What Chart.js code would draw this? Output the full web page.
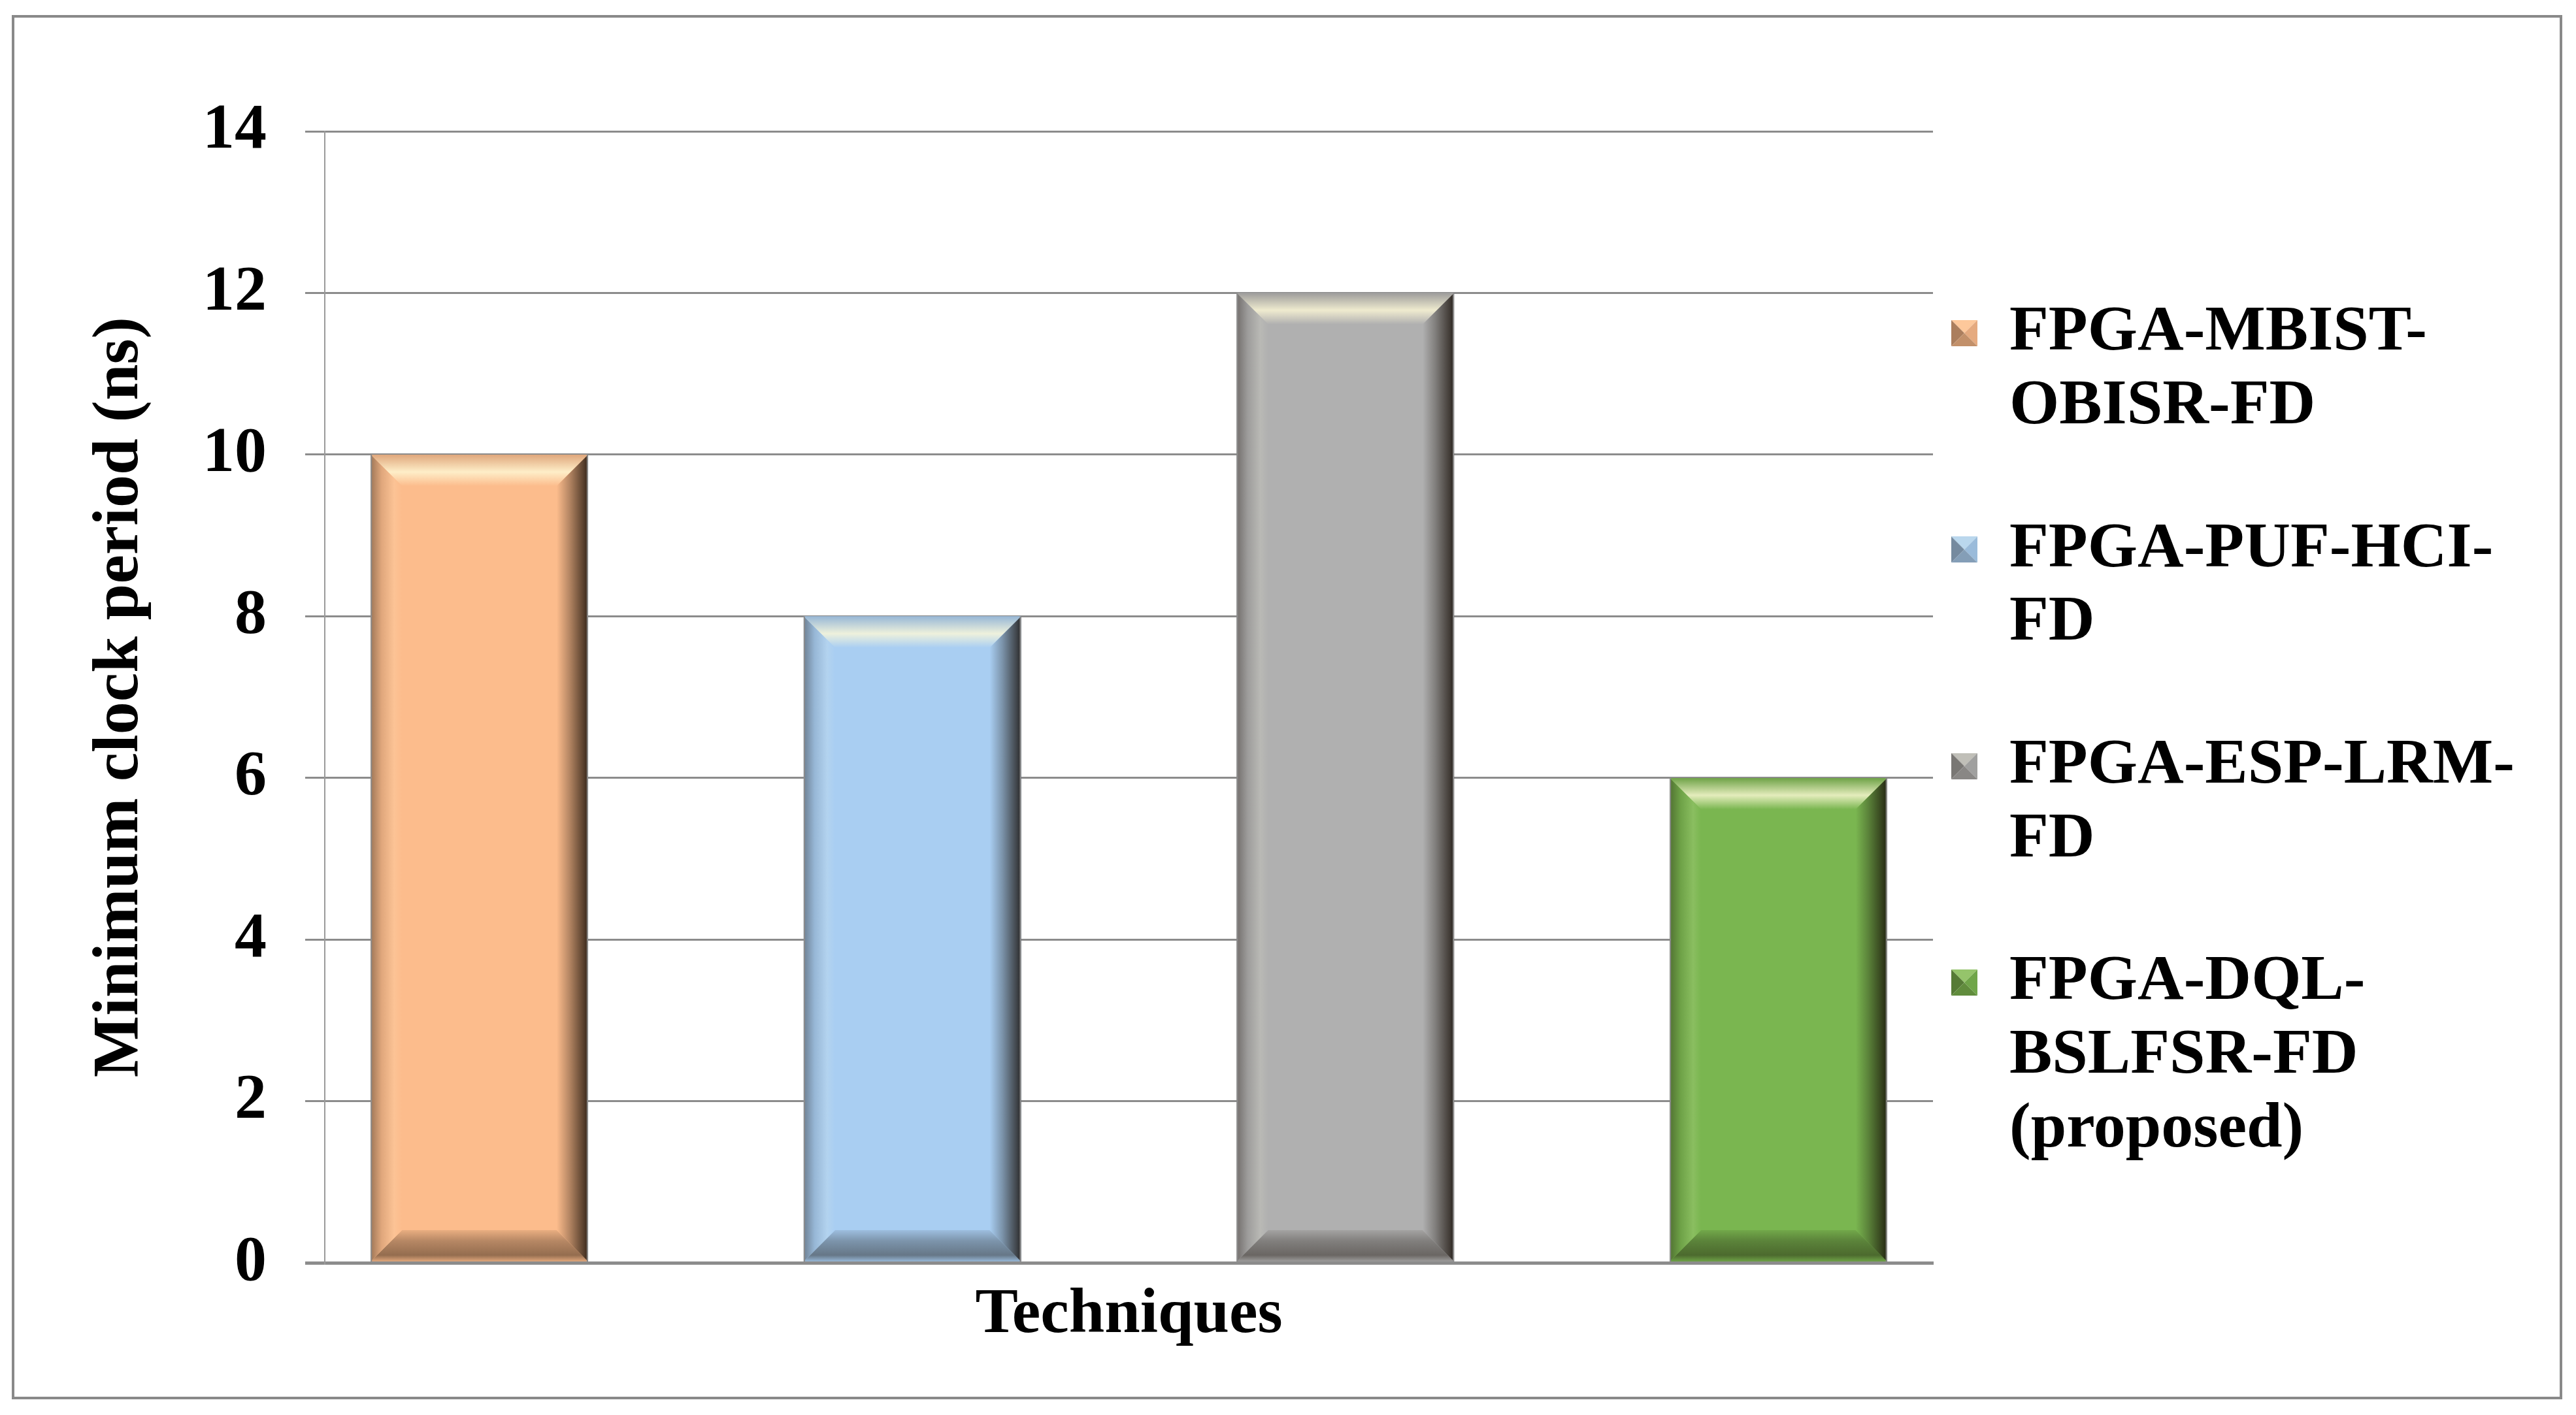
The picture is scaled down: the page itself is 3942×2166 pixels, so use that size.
<!DOCTYPE html>
<html>
<head>
<meta charset="utf-8">
<script src="https://cdn.jsdelivr.net/npm/chart.js@4/dist/chart.umd.min.js"></script>
<style>
  html, body { margin: 0; padding: 0; background: #fff; }
  canvas { display: block; }
</style>
</head>
<body>
<canvas id="clock-chart" width="3942" height="2166"></canvas>
<script>
// data
const categories = ['Techniques'];
const seriesNames = ['FPGA-MBIST-OBISR-FD', 'FPGA-PUF-HCI-FD', 'FPGA-ESP-LRM-FD', 'FPGA-DQL-BSLFSR-FD (proposed)'];
const legendLines = [
    ['FPGA-MBIST-', 'OBISR-FD'],
    ['FPGA-PUF-HCI-', 'FD'],
    ['FPGA-ESP-LRM-', 'FD'],
    ['FPGA-DQL-', 'BSLFSR-FD', '(proposed)']
];
const clockPeriods = [10, 8, 12, 6];
const yTicks = [0, 2, 4, 6, 8, 10, 12, 14];
const barColors = [[252, 188, 140], [169, 206, 242], [176, 176, 176], [122, 182, 80]];

const fontFamily = '"Liberation Serif", "Times New Roman", serif';
const bigFont = { family: fontFamily, size: 98, weight: 'bold', lineHeight: 1.2 };

// helpers for the bevel shading
function mix(c, t, k) {
    return `rgb(${Math.round(c[0] + (t[0] - c[0]) * k)},${Math.round(c[1] + (t[1] - c[1]) * k)},${Math.round(c[2] + (t[2] - c[2]) * k)})`;
}
const BLACK = [20, 12, 5];
const WHITE = [255, 250, 215];

function makeIcon(c) {
    const s = 40;
    const cv = document.createElement('canvas');
    cv.width = s; cv.height = s;
    const g = cv.getContext('2d');
    const tri = (pts, col) => {
        g.fillStyle = col;
        g.beginPath();
        g.moveTo(pts[0], pts[1]);
        for (let i = 2; i < pts.length; i += 2) g.lineTo(pts[i], pts[i + 1]);
        g.closePath();
        g.fill();
    };
    tri([0, 0, s, 0, s / 2, s / 2], mix(c, WHITE, 0.2));
    tri([0, 0, s / 2, s / 2, 0, s], mix(c, BLACK, 0.35));
    tri([s, 0, s / 2, s / 2, s, s], mix(c, BLACK, 0.1));
    tri([0, s, s / 2, s / 2, s, s], mix(c, BLACK, 0.25));
    return cv;
}
const legendIcons = barColors.map(makeIcon);

// draws Excel-like bevels on top of each bar element
const bevelPlugin = {
    id: 'bevel',
    afterDatasetsDraw(chart) {
        const ctx = chart.ctx;
        chart.data.datasets.forEach((ds, i) => {
            const c = barColors[i];
            chart.getDatasetMeta(i).data.forEach(bar => {
                const p = bar.getProps(['x', 'y', 'base', 'width'], true);
                const L = p.x - p.width / 2, R = p.x + p.width / 2, T = p.y, B = p.base;
                const b = 48;
                const poly = (pts, fill) => {
                    ctx.fillStyle = fill;
                    ctx.beginPath();
                    ctx.moveTo(pts[0], pts[1]);
                    for (let k = 2; k < pts.length; k += 2) ctx.lineTo(pts[k], pts[k + 1]);
                    ctx.closePath();
                    ctx.fill();
                };
                ctx.save();
                let g = ctx.createLinearGradient(0, T, 0, T + b);
                g.addColorStop(0, mix(c, BLACK, 0.12));
                g.addColorStop(0.55, mix(c, WHITE, 0.8));
                g.addColorStop(0.75, mix(c, WHITE, 0.45));
                g.addColorStop(1, mix(c, WHITE, 0.0));
                poly([L, T, R, T, R - b, T + b, L + b, T + b], g);

                g = ctx.createLinearGradient(0, B - b, 0, B);
                g.addColorStop(0, mix(c, BLACK, 0.08));
                g.addColorStop(0.35, mix(c, BLACK, 0.3));
                g.addColorStop(0.8, mix(c, BLACK, 0.45));
                g.addColorStop(1, mix(c, BLACK, 0.12));
                poly([L, B, L + b, B - b, R - b, B - b, R, B], g);

                g = ctx.createLinearGradient(L, 0, L + b, 0);
                g.addColorStop(0, mix(c, BLACK, 0.4));
                g.addColorStop(0.35, mix(c, BLACK, 0.12));
                g.addColorStop(0.75, mix(c, WHITE, 0.12));
                g.addColorStop(1, mix(c, WHITE, 0.0));
                poly([L, T, L + b, T + b, L + b, B - b, L, B], g);

                g = ctx.createLinearGradient(R - b, 0, R, 0);
                g.addColorStop(0, mix(c, BLACK, 0.0));
                g.addColorStop(0.4, mix(c, BLACK, 0.3));
                g.addColorStop(0.85, mix(c, BLACK, 0.7));
                g.addColorStop(1, mix(c, BLACK, 0.85));
                poly([R, T, R - b, T + b, R - b, B - b, R, B], g);

                ctx.strokeStyle = '#8c8c8c';
                ctx.lineWidth = 2;
                ctx.beginPath();
                ctx.moveTo(L + 1, T); ctx.lineTo(L + 1, B);
                ctx.moveTo(R - 1, T); ctx.lineTo(R - 1, B);
                ctx.stroke();
                ctx.restore();
            });
        });
    }
};

// pulls the legend toward the plot and draws the outer frame
const framePlugin = {
    id: 'frame',
    afterLayout(chart) {
        chart.legend.left -= 78;
        chart.legend.right -= 78;
        chart.legend.top -= 20;
        chart.legend.bottom -= 20;
    },
    afterDraw(chart) {
        const ctx = chart.ctx;
        ctx.save();
        ctx.strokeStyle = '#898989';
        ctx.lineWidth = 4;
        ctx.strokeRect(20, 25, chart.width - 43, chart.height - 51);
        ctx.restore();
    }
};

new Chart(document.getElementById('clock-chart'), {
    type: 'bar',
    data: {
        labels: categories,
        datasets: seriesNames.map((name, i) => ({
            label: name,
            data: [clockPeriods[i]],
            backgroundColor: `rgb(${barColors[i].join(',')})`,
            borderWidth: 0,
            categoryPercentage: 1.077,
            barPercentage: 0.502
        }))
    },
    options: {
        responsive: false,
        animation: false,
        devicePixelRatio: 1,
        layout: { padding: { left: 60, top: 201, right: 18, bottom: 73 } },
        plugins: {
            tooltip: { enabled: false },
            legend: {
                position: 'right',
                align: 'center',
                labels: {
                    font: { family: fontFamily, size: 98, weight: 'bold', lineHeight: 1.15 },
                    color: '#000',
                    boxWidth: 40,
                    boxHeight: 40,
                    padding: 106,
                    usePointStyle: true,
                    generateLabels(chart) {
                        const items = Chart.defaults.plugins.legend.labels.generateLabels(chart);
                        return items.map(item => Object.assign(item, {
                            text: legendLines[item.datasetIndex],
                            pointStyle: legendIcons[item.datasetIndex]
                        }));
                    }
                }
            }
        },
        scales: {
            x: {
                grid: { display: false, drawTicks: false },
                border: { display: true, color: '#8c8c8c', width: 5 },
                ticks: { font: bigFont, color: '#000', padding: 21 }
            },
            y: {
                min: 0,
                max: 14,
                afterBuildTicks(axis) {
                    axis.ticks = yTicks.map(v => ({ value: v }));
                },
                grid: {
                    color: '#8c8c8c',
                    lineWidth: ctx => (ctx.tick && ctx.tick.value === 0 ? 5 : 3),
                    tickLength: 30
                },
                border: { display: true, color: '#9a9a9a', width: 2 },
                ticks: { font: bigFont, color: '#000', padding: 59 },
                title: {
                    display: true,
                    text: 'Minimum clock period (ns)',
                    font: { family: fontFamily, size: 100, weight: 'bold', lineHeight: 1.2 },
                    color: '#000',
                    padding: { top: 64, bottom: 7 }
                }
            }
        }
    },
    plugins: [bevelPlugin, framePlugin]
});
</script>
</body>
</html>
